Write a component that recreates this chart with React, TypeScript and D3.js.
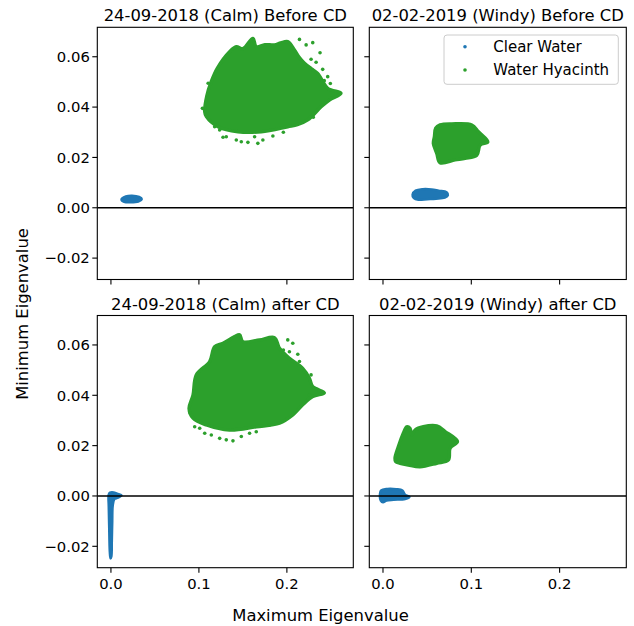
import React from "react";
import * as d3 from "d3";

// ---------- DATA ----------
const panelTitles = [
  "24-09-2018 (Calm) Before CD",
  "02-02-2019 (Windy) Before CD",
  "24-09-2018 (Calm) after CD",
  "02-02-2019 (Windy) after CD",
];
const seriesNames = ["Clear Water", "Water Hyacinth"];
const xTicks = [0.0, 0.1, 0.2];
const yTicks = [-0.02, 0.0, 0.02, 0.04, 0.06];
const xDomain: [number, number] = [-0.0155, 0.2755];
const yDomain: [number, number] = [-0.0285, 0.0717];

type P = [number, number];

// Dense point-cloud outlines (max eigenvalue, min eigenvalue)
const calmBeforeWater: P[] = [
  [0.012, 0.0033], [0.017, 0.0045], [0.024, 0.0048], [0.032, 0.0043],
  [0.035, 0.0035], [0.031, 0.0025], [0.022, 0.0022], [0.015, 0.0024],
];
const calmBeforeHyacinth: P[] = [
  [0.1066, 0.0381], [0.109, 0.0445], [0.114, 0.0501], [0.121, 0.0555],
  [0.1349, 0.062], [0.1425, 0.064], [0.150, 0.0632], [0.1614, 0.0673],
  [0.1652, 0.064], [0.175, 0.0648], [0.1859, 0.0647], [0.193, 0.0655],
  [0.201, 0.066], [0.2086, 0.0627], [0.214, 0.0598], [0.22, 0.0574],
  [0.228, 0.0552], [0.235, 0.0534], [0.2464, 0.0475], [0.2615, 0.0455],
  [0.2483, 0.0428], [0.2389, 0.0401], [0.2237, 0.0349], [0.212, 0.0330],
  [0.201, 0.0322], [0.1709, 0.0302], [0.1444, 0.0302], [0.1217, 0.0322],
  [0.1085, 0.0362],
];
const calmBeforeHyacinthOut: P[] = [
  [0.2143, 0.0669], [0.2219, 0.0647], [0.2294, 0.0656], [0.2377, 0.0616],
  [0.2275, 0.059], [0.2407, 0.055], [0.2464, 0.0521], [0.2494, 0.0494],
  [0.2559, 0.0461], [0.2502, 0.0435], [0.1179, 0.0322], [0.1236, 0.0309],
  [0.1274, 0.028], [0.1311, 0.0282], [0.1425, 0.0269], [0.1482, 0.0262],
  [0.1557, 0.026], [0.1633, 0.0282], [0.1727, 0.0269], [0.1841, 0.0285],
  [0.167, 0.0256], [0.2332, 0.0578], [0.2425, 0.0505], [0.1040, 0.0395],
  [0.1105, 0.0495], [0.1960, 0.0300], [0.2300, 0.0360],
];

const windyBeforeWater: P[] = [
  [0.0335, 0.0052], [0.037, 0.0068], [0.045, 0.0074], [0.055, 0.0073],
  [0.063, 0.0068], [0.072, 0.0062], [0.0735, 0.005], [0.07, 0.004],
  [0.06, 0.0036], [0.05, 0.0034], [0.04, 0.0032], [0.035, 0.0038],
];
const windyBeforeHyacinth: P[] = [
  [0.0582, 0.0282], [0.0597, 0.0316], [0.0646, 0.0329], [0.0779, 0.0333],
  [0.1006, 0.0329], [0.1081, 0.0302], [0.1187, 0.0262], [0.11, 0.0249],
  [0.1062, 0.0209], [0.093, 0.0196], [0.0816, 0.019], [0.0646, 0.0179],
  [0.0609, 0.0216], [0.057, 0.0256],
];

const calmAfterWater: P[] = [
  [-0.0025, 0.0005], [-0.001, 0.0013], [0.003, 0.0014], [0.007, 0.0009],
  [0.012, 0.0003], [0.008, -0.0007], [0.004, -0.0012], [0.002, -0.004],
  [0.0015, -0.01], [0.001, -0.018], [0.0005, -0.024], [-0.0005, -0.0248],
  [-0.0013, -0.022], [-0.002, -0.012], [-0.0025, -0.004],
];
const calmAfterHyacinth: P[] = [
  [0.0888, 0.0348], [0.0933, 0.0401], [0.0971, 0.0481], [0.1122, 0.0534],
  [0.1179, 0.0593], [0.1274, 0.0607], [0.1406, 0.0633], [0.1463, 0.064],
  [0.15, 0.0613], [0.1689, 0.062], [0.1859, 0.0629], [0.1916, 0.0587],
  [0.2029, 0.0547], [0.218, 0.0507], [0.2256, 0.0468], [0.2294, 0.0434],
  [0.2426, 0.041], [0.2294, 0.0395], [0.218, 0.0362], [0.2067, 0.0322],
  [0.1916, 0.0289], [0.1652, 0.0275], [0.1349, 0.0262], [0.1085, 0.0282],
  [0.0933, 0.0309],
];
const calmAfterHyacinthOut: P[] = [
  [0.201, 0.062], [0.2067, 0.0607], [0.2124, 0.0563], [0.2029, 0.0573],
  [0.2143, 0.0534], [0.22, 0.0494], [0.2275, 0.0481], [0.2256, 0.0401],
  [0.0952, 0.0275], [0.1009, 0.0269], [0.1066, 0.0249], [0.1141, 0.0242],
  [0.1236, 0.0229], [0.1311, 0.0223], [0.1387, 0.0219], [0.1482, 0.0236],
  [0.1576, 0.0249], [0.1652, 0.0255], [0.1803, 0.0282], [0.2330, 0.0425],
  [0.0900, 0.0330], [0.1960, 0.0580],
];

const windyAfterWater: P[] = [
  [-0.0035, -0.0002], [-0.002, 0.0022], [0.005, 0.0028], [0.015, 0.0027],
  [0.022, 0.0022], [0.025, 0.0005], [0.03, -0.0003], [0.025, -0.0012],
  [0.012, -0.0015], [0.004, -0.0018], [0.0, -0.0025], [-0.0025, -0.0018],
];
const windyAfterHyacinth: P[] = [
  [0.0136, 0.015], [0.0174, 0.0196], [0.023, 0.0249], [0.0268, 0.0275],
  [0.0306, 0.0269], [0.0325, 0.0242], [0.0363, 0.0262], [0.0457, 0.0275],
  [0.0609, 0.0278], [0.0703, 0.0256], [0.0843, 0.0216], [0.076, 0.019],
  [0.0741, 0.0143], [0.0609, 0.013], [0.0419, 0.0116], [0.0287, 0.0123],
  [0.0193, 0.013], [0.0144, 0.0136],
];

const panelsData = [
  { water: calmBeforeWater, hyacinth: calmBeforeHyacinth, out: calmBeforeHyacinthOut },
  { water: windyBeforeWater, hyacinth: windyBeforeHyacinth, out: [] as P[] },
  { water: calmAfterWater, hyacinth: calmAfterHyacinth, out: calmAfterHyacinthOut },
  { water: windyAfterWater, hyacinth: windyAfterHyacinth, out: [] as P[] },
];

// ---------- LAYOUT / STYLE ----------
const W = 634;
const H = 626;
const colsX: [number, number][] = [[97.3, 353.3], [369.3, 626.3]];
const rowsY: [number, number][] = [[27.3, 279.5], [315.5, 567.7]];
const BLUE = "#1f77b4";
const GREEN = "#2ca02c";
const FONT = "DejaVu Sans, sans-serif";

function fmtY(v: number) {
  const s = Math.abs(v).toFixed(2);
  return (v < -1e-9 ? "\u2212" : "") + s;
}

export default function App() {
  return (
    <svg
      width={W}
      height={H}
      style={{ position: "absolute", left: 0, top: 0, background: "#fff" }}
      fontFamily={FONT}
    >
      <rect x={0} y={0} width={W} height={H} fill="#fff" />
      {panelsData.map((pd, i) => {
        const r = Math.floor(i / 2);
        const c = i % 2;
        const [x0, x1] = colsX[c];
        const [y0, y1] = rowsY[r];
        const xs = d3.scaleLinear().domain(xDomain).range([x0, x1]);
        const ys = d3.scaleLinear().domain(yDomain).range([y1, y0]);
        const line = d3
          .line<P>()
          .x((d) => xs(d[0]))
          .y((d) => ys(d[1]))
          .curve(d3.curveCatmullRomClosed.alpha(0.5));
        const clipId = `clip${i}`;
        return (
          <g key={i}>
            <defs>
              <clipPath id={clipId}>
                <rect x={x0} y={y0} width={x1 - x0} height={y1 - y0} />
              </clipPath>
            </defs>
            <g clipPath={`url(#${clipId})`}>
              <path d={line(pd.water) || ""} fill={BLUE} stroke={BLUE} strokeWidth={2.5} strokeLinejoin="round" />
              <path d={line(pd.hyacinth) || ""} fill={GREEN} stroke={GREEN} strokeWidth={3.4} strokeLinejoin="round" />
              {pd.out.map((p, k) => (
                <circle key={k} cx={xs(p[0])} cy={ys(p[1])} r={1.8} fill={GREEN} />
              ))}
              <line x1={x0} x2={x1} y1={ys(0)} y2={ys(0)} stroke="#000" strokeWidth={1.6} />
            </g>
            <rect x={x0} y={y0} width={x1 - x0} height={y1 - y0} fill="none" stroke="#000" strokeWidth={1.1} />
            {xTicks.map((t) => (
              <g key={"x" + t}>
                <line x1={xs(t)} x2={xs(t)} y1={y1} y2={y1 + 5} stroke="#000" strokeWidth={1.1} />
                {r === 1 && (
                  <text x={xs(t)} y={y1 + 21} textAnchor="middle" fontSize={14.8} fill="#000">
                    {t.toFixed(1)}
                  </text>
                )}
              </g>
            ))}
            {yTicks.map((t) => (
              <g key={"y" + t}>
                <line x1={x0 - 5} x2={x0} y1={ys(t)} y2={ys(t)} stroke="#000" strokeWidth={1.1} />
                {c === 0 && (
                  <text x={x0 - 7.5} y={ys(t)} dy="0.36em" textAnchor="end" fontSize={14.8} fill="#000">
                    {fmtY(t)}
                  </text>
                )}
              </g>
            ))}
            <text x={(x0 + x1) / 2} y={y0 - 6} textAnchor="middle" fontSize={16.4} fill="#000">
              {panelTitles[i]}
            </text>
          </g>
        );
      })}
      {/* legend in panel 2 */}
      <g>
        <rect x={444} y={35} width={174.3} height={49.3} rx={3} fill="#fff" fillOpacity={0.8} stroke="#ccc" strokeWidth={1} />
        {seriesNames.map((s, k) => (
          <g key={s}>
            <circle cx={465} cy={46.7 + k * 23.3} r={1.8} fill={k === 0 ? BLUE : GREEN} />
            <text x={493.3} y={46.7 + k * 23.3} dy="0.36em" fontSize={15} fill="#000">
              {s}
            </text>
          </g>
        ))}
      </g>
      <text x={320.5} y={621} textAnchor="middle" fontSize={16.4} fill="#000">
        Maximum Eigenvalue
      </text>
      <text transform="translate(28,314) rotate(-90)" textAnchor="middle" fontSize={16.4} fill="#000">
        Minimum Eigenvalue
      </text>
    </svg>
  );
}
